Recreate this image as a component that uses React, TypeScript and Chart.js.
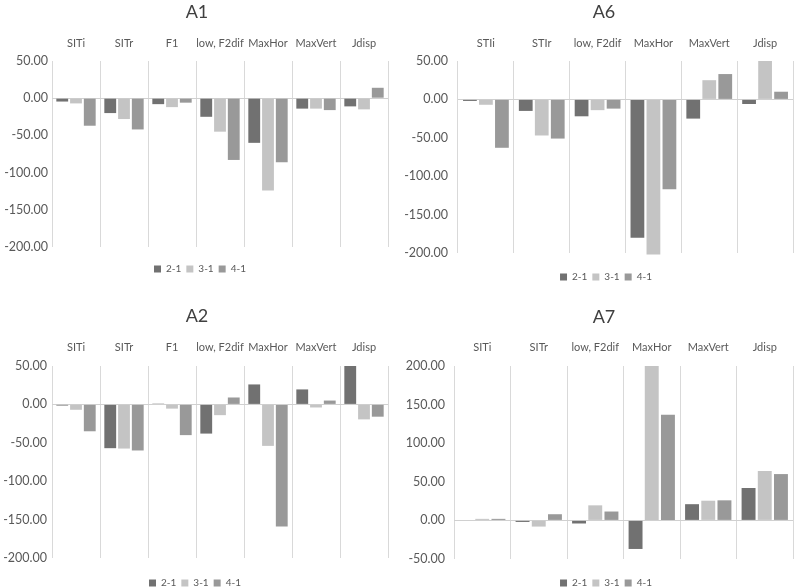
import React, { useEffect, useRef } from "react";
import { Chart, registerables } from "chart.js";
Chart.register(...registerables);

const SERIES = ["2-1", "3-1", "4-1"];
const COLORS = ["#717171", "#c4c4c4", "#999999"];

const A1_CATS = ["SITi", "SITr", "F1", "low, F2dif", "MaxHor", "MaxVert", "Jdisp"];
const A1_21 = [-4.5, -20, -8, -25, -60, -14, -11];
const A1_31 = [-7, -28, -12, -45, -124, -14, -15];
const A1_41 = [-37, -42, -6, -83, -86, -16, 14];

const A6_CATS = ["STIi", "STIr", "low, F2dif", "MaxHor", "MaxVert", "Jdisp"];
const A6_21 = [-2, -15, -22, -180, -25, -6];
const A6_31 = [-7, -47, -14, -202, 25, 50];
const A6_41 = [-63, -51, -12, -117, 33, 10];

const A2_CATS = ["SITi", "SITr", "F1", "low, F2dif", "MaxHor", "MaxVert", "Jdisp"];
const A2_21 = [-1.5, -57, 1, -38, 26, 19.5, 50];
const A2_31 = [-7, -57.5, -5.5, -14, -54, -4, -19.5];
const A2_41 = [-35, -60, -40, 9, -159, 5, -16];

const A7_CATS = ["SITi", "SITr", "low, F2dif", "MaxHor", "MaxVert", "Jdisp"];
const A7_21 = [0, -2, -4, -37, 21, 42];
const A7_31 = [2, -8, 19.5, 200, 25.5, 64];
const A7_41 = [2, 8, 11.5, 137, 26, 60];

const FONT = "Lato, 'Open Sans', sans-serif";

type Panel = {
  title: string;
  cats: string[];
  values: number[][];
  min: number;
  max: number;
  left: number;
  top: number;
  titleC: number;
  titleX: number;
  catC: number;
  plotTop: number;
  plotBottom: number;
  plotLeft: number;
  plotRight: number;
  tickRight: number;
  legendC: number;
  legendX: number;
};

const PANELS: Panel[] = [
  { title: "A1", cats: A1_CATS, values: [A1_21, A1_31, A1_41], min: -200, max: 50,
    left: 0, top: 0, titleC: 12, titleX: 197, catC: 43, plotTop: 61, plotBottom: 247, plotLeft: 52, plotRight: 388, tickRight: 48, legendC: 269, legendX: 200 },
  { title: "A6", cats: A6_CATS, values: [A6_21, A6_31, A6_41], min: -200, max: 50,
    left: 400, top: 0, titleC: 12, titleX: 204, catC: 43, plotTop: 61, plotBottom: 253, plotLeft: 58, plotRight: 393, tickRight: 48, legendC: 277, legendX: 206 },
  { title: "A2", cats: A2_CATS, values: [A2_21, A2_31, A2_41], min: -200, max: 50,
    left: 0, top: 290, titleC: 26, titleX: 197, catC: 57, plotTop: 76, plotBottom: 268, plotLeft: 52, plotRight: 388, tickRight: 47, legendC: 293, legendX: 195 },
  { title: "A7", cats: A7_CATS, values: [A7_21, A7_31, A7_41], min: -50, max: 200,
    left: 400, top: 290, titleC: 27, titleX: 204, catC: 57, plotTop: 76, plotBottom: 269, plotLeft: 54, plotRight: 393, tickRight: 45, legendC: 293, legendX: 206 },
];

const W = 400;
const TITLE_SIZE = 18;
const CAT_SIZE = 11;
const TICK_SIZE = 12.5;
const LEG_SIZE = 10;

function PanelChart({ p }: { p: Panel }) {
  const ref = useRef<HTMLCanvasElement | null>(null);
  const titleLH = TITLE_SIZE * 1.2;
  const titlePadTop = p.titleC - titleLH / 2;
  const titleBoxH = titleLH + titlePadTop;
  const xHeight = p.plotTop - titleBoxH;
  const xPad = p.plotTop - p.catC - (CAT_SIZE * 1.2) / 2;
  const yPad = p.plotLeft - p.tickRight;
  const legPad = 5;
  const itemH = LEG_SIZE;
  const legTitleH = p.legendC - p.plotBottom - legPad - itemH / 2;
  const legendH = legTitleH + itemH + legPad + 10;
  const H = Math.ceil(p.plotBottom + legendH + 1);
  const padBottom = H - p.plotBottom - legendH;

  useEffect(() => {
    if (!ref.current) return;
    const shiftPlugin = {
      id: "shiftBoxes",
      afterUpdate(chart: any) {
        const lg = chart.legend;
        if (lg) {
          const dx = p.legendX - (lg.left + lg.right) / 2;
          lg.left += dx;
          lg.right += dx;
        }
        const tt = chart.titleBlock;
        if (tt) {
          const dx = p.titleX - (tt.left + tt.right) / 2;
          tt.left += dx;
          tt.right += dx;
        }
      },
    };
    const chart = new Chart(ref.current, {
      type: "bar",
      data: {
        labels: p.cats,
        datasets: SERIES.map((s, i) => ({
          label: s,
          data: p.values[i],
          backgroundColor: COLORS[i],
          borderWidth: 0,
          categoryPercentage: 0.86,
          barPercentage: 0.86,
          clip: false as any,
        })),
      },
      options: {
        responsive: false,
        animation: false,
        devicePixelRatio: 1,
        layout: { padding: { left: 0, right: W - p.plotRight, top: 0, bottom: padBottom } },
        plugins: {
          title: {
            display: true,
            text: p.title,
            color: "#404040",
            font: { family: FONT, size: TITLE_SIZE, weight: "normal" as any, lineHeight: 1.2 },
            padding: { top: titlePadTop, bottom: 0 },
          },
          legend: {
            position: "bottom",
            title: { display: true, text: "", font: { size: 1, lineHeight: 1 }, padding: { top: legTitleH - 1, bottom: 0 } },
            labels: {
              boxWidth: 7,
              boxHeight: 7,
              padding: legPad,
              color: "#595959",
              font: { family: FONT, size: LEG_SIZE },
            },
          },
          tooltip: { enabled: false },
        },
        scales: {
          x: {
            position: "top",
            grid: { color: "#d9d9d9", drawTicks: false, offset: true, lineWidth: 1 },
            border: { display: false },
            ticks: {
              color: "#595959",
              font: { family: FONT, size: CAT_SIZE, lineHeight: 1.2 },
              padding: xPad,
              maxRotation: 0,
              autoSkip: false,
            },
            afterFit: (s: any) => {
              s.height = xHeight;
            },
          },
          y: {
            min: p.min,
            max: p.max,
            border: { display: false },
            grid: {
              drawTicks: false,
              color: (ctx: any) => (ctx.tick && ctx.tick.value === 0 ? "#d0d0d0" : "rgba(0,0,0,0)"),
            },
            ticks: {
              stepSize: 50,
              color: "#595959",
              font: { family: FONT, size: TICK_SIZE },
              padding: yPad,
              callback: (v: any) => Number(v).toFixed(2),
            },
            afterFit: (s: any) => {
              s.width = p.plotLeft;
            },
          },
        },
      },
      plugins: [shiftPlugin],
    } as any);
    return () => chart.destroy();
  }, []);

  return (
    <canvas
      ref={ref}
      width={W}
      height={H}
      style={{ position: "absolute", left: p.left, top: p.top, width: W, height: H }}
    />
  );
}

export default function App() {
  return (
    <div style={{ position: "absolute", left: 0, top: 0, width: 800, height: 588, background: "#fff", overflow: "hidden" }}>
      {PANELS.map((p) => (
        <PanelChart key={p.title} p={p} />
      ))}
    </div>
  );
}
